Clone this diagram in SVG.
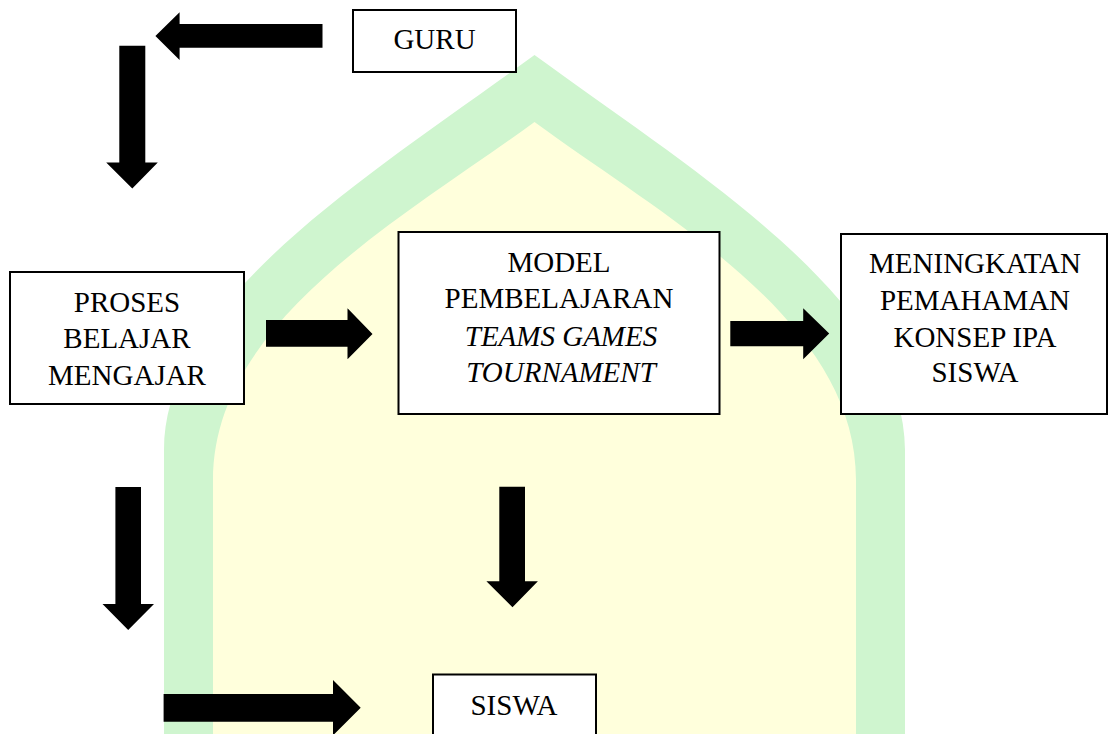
<svg xmlns="http://www.w3.org/2000/svg" width="1110" height="734" viewBox="0 0 1110 734">
  <style>
    .box { fill: #ffffff; stroke: #000000; stroke-width: 2; }
    .lbl { font-family: "Liberation Serif", "Times New Roman", serif; font-size: 29px; fill: #000000; text-anchor: middle; }
    .it { font-style: italic; }
    .arrow { fill: #000000; stroke: none; }
  </style>
  <rect x="0" y="0" width="1110" height="734" fill="#ffffff"/>
  <g id="watermark">
    <path d="M164,734 L164,450 C164,300 370,175 534.5,55 C699,175 905,300 905,450 L905,734 Z" fill="#cff5cf"/>
    <path d="M213,734 L213,480 C213,320 405,217 534.5,122 C664,217 856,320 856,480 L856,734 Z" fill="#ffffdc"/>
  </g>
  <g id="connectors">
    <polygon class="arrow" points="322.5,24 179.6,24 179.6,12.3 155.4,36 179.6,60 179.6,47.7 322.5,47.7"/>
    <polygon class="arrow" points="119.3,45.7 145.3,45.7 145.3,162.5 157.8,162.5 132.3,188.5 106.2,162.5 119.3,162.5"/>
    <polygon class="arrow" points="266,320 347.5,320 347.5,308.3 372.5,334 347.5,359.3 347.5,346.7 266,346.7"/>
    <polygon class="arrow" points="730.3,321 803.2,321 803.2,308.3 829.2,333.5 803.2,359.3 803.2,346.3 730.3,346.3"/>
    <polygon class="arrow" points="115.4,487 141,487 141,604 154,604 128.2,630 102.5,604 115.4,604"/>
    <polygon class="arrow" points="499.3,486.7 525,486.7 525,581.3 537.9,581.3 512.5,607.3 486.4,581.3 499.3,581.3"/>
    <polygon class="arrow" points="163.6,694 333,694 333,680 360.7,707.7 333,735.4 333,721.7 163.6,721.7"/>
  </g>
  <g id="node-guru">
    <rect class="box" x="353" y="10" width="163" height="62"/>
    <text class="lbl" x="434.5" y="49">GURU</text>
  </g>
  <g id="node-proses">
    <rect class="box" x="10" y="272" width="234" height="132"/>
    <text class="lbl" x="127" y="311.5">PROSES</text>
    <text class="lbl" x="127" y="348">BELAJAR</text>
    <text class="lbl" x="127" y="384.7">MENGAJAR</text>
  </g>
  <g id="node-model">
    <rect class="box" x="398.5" y="232" width="321" height="182"/>
    <text class="lbl" x="559" y="271.7">MODEL</text>
    <text class="lbl" x="559" y="308.3">PEMBELAJARAN</text>
    <text class="lbl it" x="561" y="345.5">TEAMS GAMES</text>
    <text class="lbl it" x="561" y="381.7">TOURNAMENT</text>
  </g>
  <g id="node-meningkatan">
    <rect class="box" x="841" y="234" width="266" height="180"/>
    <text class="lbl" x="975" y="273.3">MENINGKATAN</text>
    <text class="lbl" x="975" y="310">PEMAHAMAN</text>
    <text class="lbl" x="975" y="346.7">KONSEP IPA</text>
    <text class="lbl" x="975" y="382.3">SISWA</text>
  </g>
  <g id="node-siswa">
    <rect class="box" x="433" y="674.5" width="163" height="80"/>
    <text class="lbl" x="514" y="715">SISWA</text>
  </g>
</svg>
